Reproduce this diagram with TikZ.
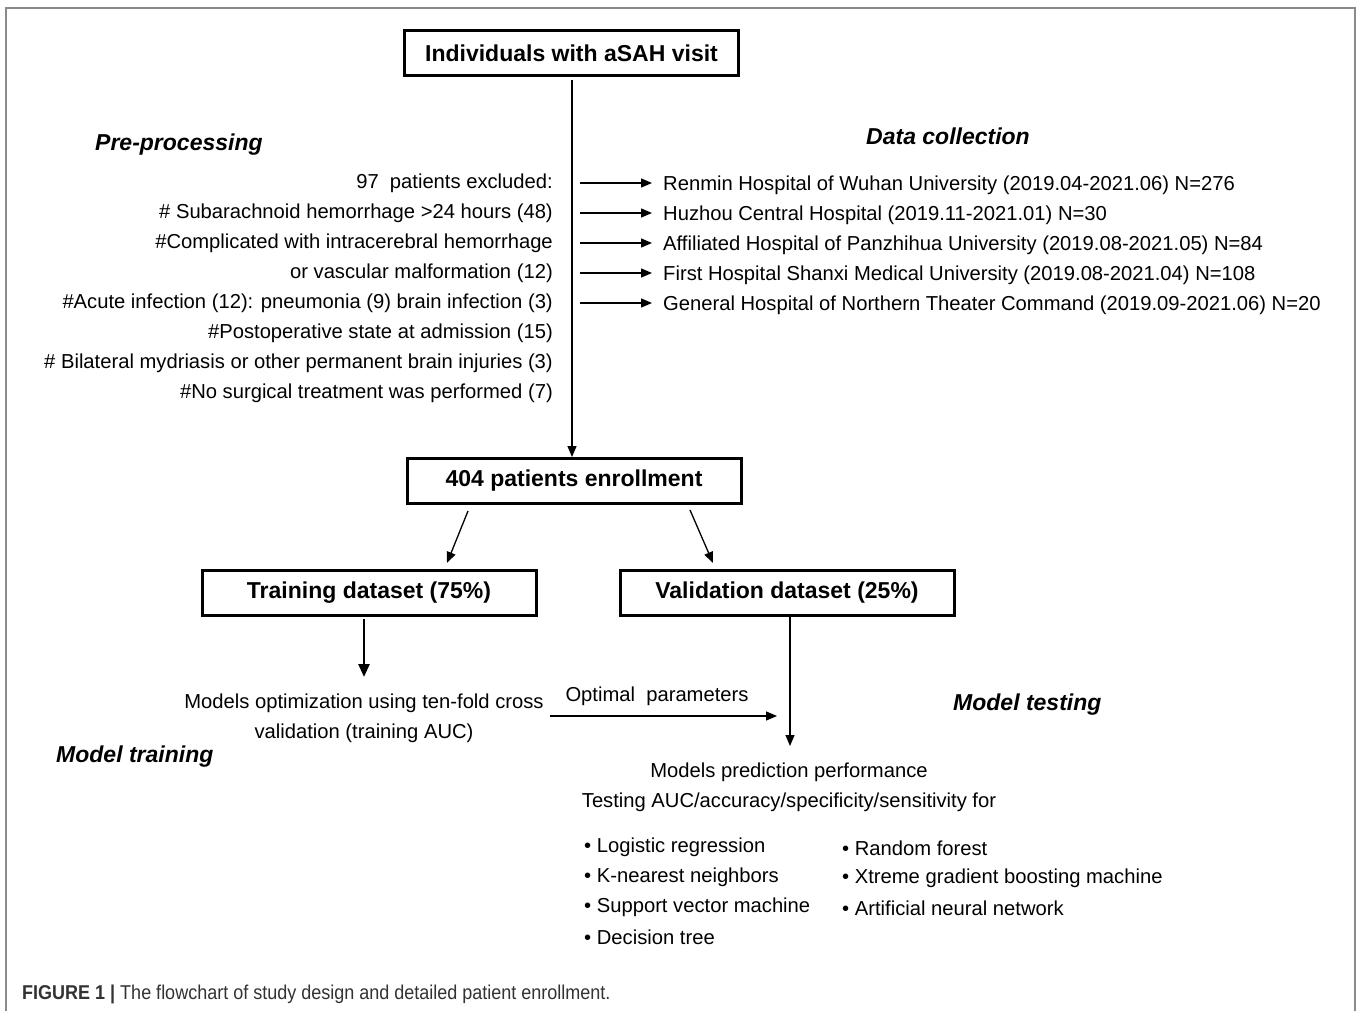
\documentclass[tikz,border=0pt]{standalone}
\usepackage{fontspec}
\setmainfont{Liberation Sans}
\newfontfamily\capfont[FakeStretch=0.9]{Liberation Sans}
\usetikzlibrary{arrows.meta}
\definecolor{capgray}{HTML}{333333}
\definecolor{framegray}{HTML}{8A8A8A}
\begin{document}
\begin{tikzpicture}[x=1pt,y=-1pt,
  boxnode/.style={draw, line width=3pt, minimum width=334pt, minimum height=45pt,
    font=\fontsize{23}{27}\selectfont\bfseries, inner sep=0pt},
  txt/.style={font=\fontsize{20.2}{30}\selectfont, inner sep=0pt},
  head/.style={font=\fontsize{23}{27}\selectfont\bfseries\itshape, inner sep=0pt},
  arr/.style={line width=1.3pt, -{Triangle[length=11pt,width=9pt]}},
  thickarr/.style={line width=2.6pt, -{Triangle[length=13pt,width=11pt]}},
]
\useasboundingbox (0,0) rectangle (1358,1011);
\fill[white] (0,0) rectangle (1358,1011);
% frame
\draw[framegray, line width=1.6pt] (6,1011) -- (6,8) -- (1355,8) -- (1355,1011);

% boxes
\node[boxnode] (b1) at (571.5,53) {Individuals with aSAH visit};
\node[boxnode] (b2) at (574,481) {404 patients enrollment};
\node[boxnode] (tr) at (369,593) {Training dataset (75\%)};
\node[boxnode] (va) at (787,593) {Validation dataset (25\%)};

% headings
\node[head, anchor=west] (hpre) at (95,145) {Pre-processing};
\node[head, anchor=west] (hdc) at (866,136) {Data collection};
\node[head, anchor=west] (hmt) at (953,705) {Model testing};
\node[head, anchor=west] (hmtr) at (56,757) {Model training};

% pre-processing list
\node[txt, anchor=east] (p0) at (553,183) {97\ \ patients excluded:};
\node[txt, anchor=east] (p1) at (553,213) {\# Subarachnoid hemorrhage >24 hours (48)};
\node[txt, anchor=east] (p2) at (553,243) {\#Complicated with intracerebral hemorrhage};
\node[txt, anchor=east] (p3) at (553,273) {or vascular malformation (12)};
\node[txt, anchor=east] (p4) at (553,303) {\#Acute infection (12): pneumonia (9) brain infection (3)};
\node[txt, anchor=east] (p5) at (553,333) {\#Postoperative state at admission (15)};
\node[txt, anchor=east] (p6) at (553,363) {\# Bilateral mydriasis or other permanent brain injuries (3)};
\node[txt, anchor=east] (p7) at (553,393) {\#No surgical treatment was performed (7)};

% data collection list
\node[txt, anchor=west] (d1) at (663,185) {Renmin Hospital of Wuhan University (2019.04-2021.06) N=276};
\node[txt, anchor=west] (d2) at (663,215) {Huzhou Central Hospital (2019.11-2021.01) N=30};
\node[txt, anchor=west] (d3) at (663,245) {Affiliated Hospital of Panzhihua University (2019.08-2021.05) N=84};
\node[txt, anchor=west] (d4) at (663,275) {First Hospital Shanxi Medical University (2019.08-2021.04) N=108};
\node[txt, anchor=west] (d5) at (663,305) {General Hospital of Northern Theater Command (2019.09-2021.06) N=20};

\coordinate (ax) at (580,0);
\foreach \d in {d1,d2,d3,d4,d5}{
  \draw[arr] ([shift={(0,-2)}]\d.west -| ax) -- ([shift={(-11,-2)}]\d.west);
}

% main vertical arrow
\draw[arr] ([shift={(0.5,3)}]b1.south) -- ([shift={(0.5,0)}]b1.south |- b2.north);

% split arrows
\draw[arr] ([shift={(-106,6)}]b2.south) -- ([shift={(78,-6)}]tr.north);
\draw[arr] ([shift={(116,5)}]b2.south) -- ([shift={(-74,-6)}]va.north);

% training branch
\node[txt, align=center] (mo) at (364,718) {Models optimization using ten-fold cross\\validation (training AUC)};
\draw[thickarr] ([shift={(-5,2)}]tr.south) -- ([shift={(-5,60)}]tr.south);

% validation branch
\coordinate (vd) at (790,746);
\draw[arr] (va.south -| vd) -- (vd);

\draw[arr] ([shift={(6,-2)}]mo.east) -- ([shift={(-13,-30)}]vd);
\node[txt] (op) at (657,696) {Optimal\ \ parameters};

% results
\node[txt] (mp) at (789,772) {Models prediction performance};
\node[txt] (ta) at (789,802) {Testing AUC/accuracy/specificity/sensitivity for};

\node[txt, anchor=west] (m1) at (584,847) {\textbullet\ Logistic regression};
\node[txt, anchor=west] (m2) at (584,877) {\textbullet\ K-nearest neighbors};
\node[txt, anchor=west] (m3) at (584,907) {\textbullet\ Support vector machine};
\node[txt, anchor=west] (m4) at (584,937) {\textbullet\ Decision tree};
\node[txt, anchor=west] (m5) at (842,848) {\textbullet\ Random forest};
\node[txt, anchor=west] (m6) at (842,878) {\textbullet\ Xtreme gradient boosting machine};
\node[txt, anchor=west] (m7) at (842,908) {\textbullet\ Artificial neural network};

% caption
\node[anchor=west, inner sep=0pt, text=capgray, font=\capfont\fontsize{20}{22}\selectfont] (cap) at (22,994)
  {\textbf{FIGURE 1 |} The flowchart of study design and detailed patient enrollment.};
\end{tikzpicture}
\end{document}
